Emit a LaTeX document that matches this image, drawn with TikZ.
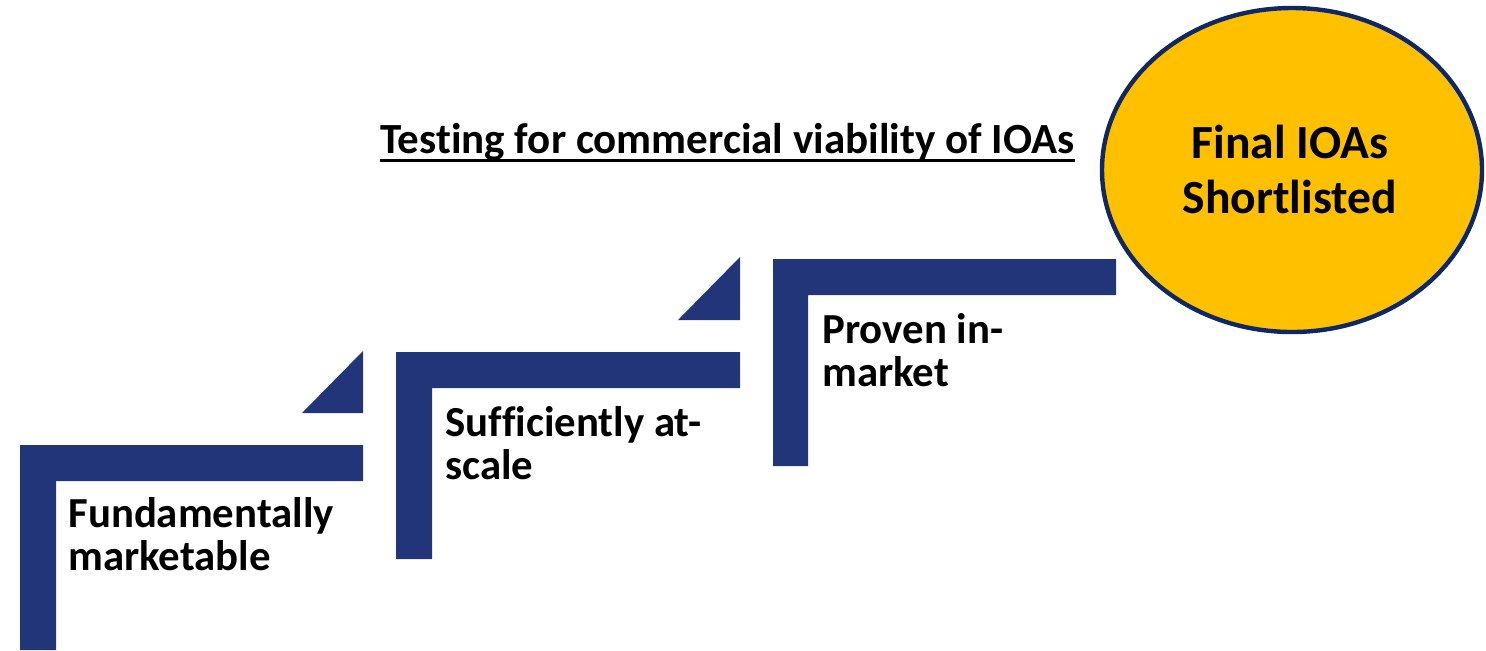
\documentclass[tikz,border=0pt]{standalone}
\usepackage{fontspec}
\setmainfont{Carlito}[RawFeature=-liga]
\usetikzlibrary{shapes.geometric}
\definecolor{navy}{HTML}{233579}
\definecolor{rim}{HTML}{0E2867}
\definecolor{gold}{HTML}{FFC000}
\begin{document}
\begin{tikzpicture}[x=0.5pt,y=-0.5pt,
  stepshape/.style={fill=navy,draw=none},
  steplabel/.style={anchor=base west,inner sep=0pt,align=left,font=\fontsize{21.4}{21.5}\selectfont\bfseries},
  goal/.style={ellipse,draw=rim,line width=2.2pt,fill=gold,minimum width=190pt,minimum height=162pt,inner sep=0pt}]
\useasboundingbox (0,0) rectangle (1486,650);
% step 1
\path[stepshape] (20,445) -- (363,445) -- (363,481) -- (56,481) -- (56,650) -- (20,650) -- cycle;
\path[stepshape] (302,413) -- (363,413) -- (363,351) -- cycle;
% step 2
\path[stepshape] (396,352) -- (740,352) -- (740,388) -- (432,388) -- (432,559) -- (396,559) -- cycle;
\path[stepshape] (678,320) -- (740,320) -- (740,257) -- cycle;
% step 3
\path[stepshape] (773,259) -- (1116,259) -- (1116,295) -- (808,295) -- (808,466) -- (773,466) -- cycle;
% labels (base anchor = last line)
\node[steplabel] (s1) at (68,570) {Fundamentally\\marketable};
\node[steplabel] (s2) at (445,479) {Sufficiently at-\\scale};
\node[steplabel] (s3) at (822,386) {Proven in-\\market};
\node[anchor=base west,inner sep=0pt,font=\fontsize{21.5}{25}\selectfont\bfseries] (title) at (380,153) {Testing for commercial viability of IOAs};
\draw[line width=1.5pt] ([yshift=-3.5pt]title.base west) -- ([yshift=-3.5pt]title.base east);
\node[goal] (final) at (1292,170) {};
\node[anchor=base,inner sep=0pt,align=center,font=\fontsize{23.8}{27.5}\selectfont\bfseries] (finaltext) at (1290,213) {Final IOAs\\Shortlisted};
\end{tikzpicture}
\end{document}
